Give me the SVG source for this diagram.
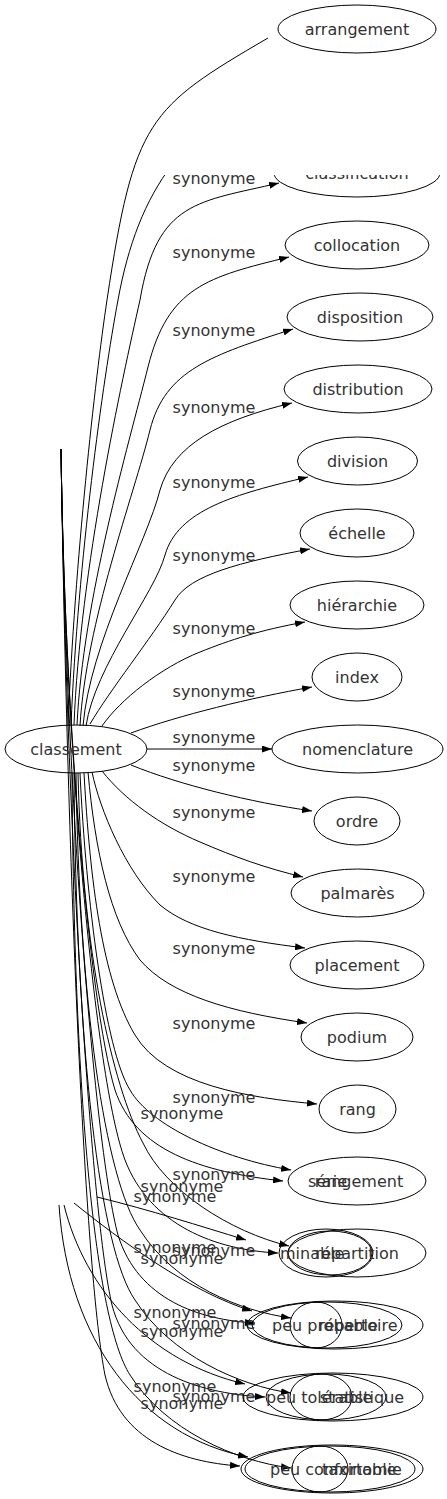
<svg xmlns="http://www.w3.org/2000/svg" width="447" height="1499" viewBox="0 0 447 1499">
<style>
.e{fill:none;stroke:#000;stroke-width:1}
.a{fill:none;stroke:#000;stroke-width:1;marker-end:url(#arr)}
.nd{fill:none;stroke:#000;stroke-width:1}
text{font-family:"DejaVu Sans",sans-serif;font-size:16px;fill:#333}
.m{text-anchor:middle}
.s{text-anchor:start}
</style>
<defs>
<marker id="arr" markerUnits="userSpaceOnUse" markerWidth="10" markerHeight="7" refX="10" refY="3.5" orient="auto"><path d="M0,0 L10,3.5 L0,7 z" fill="#000"/></marker>
</defs>
<rect x="0" y="0" width="447" height="1499" fill="#fff"/>
<g id="edges">
<path class="e" d="M71,725 C78,560 103,380 118,300 C128,245 145,200 172,165"/>
<path class="a" d="M74,725 C80,570 122,380 140,300 C157,200 199,202 279,183"/>
<path class="a" d="M77,725 C83,600 128,447 148,367 C168,287 207,277 289,257"/>
<path class="a" d="M80,726 C86,622 134,495 150,430 C165,370 212,355 293,329"/>
<path class="a" d="M83,726 C90,643 147,542 160,490 C173,445 220,420 292,403"/>
<path class="a" d="M86,726 C95,666 155,593 165,555 C178,510 235,494 308,477"/>
<path class="a" d="M90,724 C110,690 150,640 175,600 C190,575 240,562 310,549"/>
<path class="a" d="M102,726 C120,700 160,668 200,652 C230,640 260,630 305,622"/>
<path class="a" d="M131,733 C180,715 250,698 312,687"/>
<path class="a" d="M147,749 L272,749"/>
<path class="a" d="M131,765 C180,785 250,802 312,811"/>
<path class="a" d="M102,771 C125,800 160,825 200,842 C235,857 265,868 303,877"/>
<path class="a" d="M92,772 C100,810 125,870 160,905 C190,930 240,940 305,948"/>
<path class="a" d="M88,772 C95,850 110,920 140,960 C170,995 230,1012 307,1023"/>
<path class="a" d="M84,773 C90,880 102,980 135,1035 C165,1085 250,1098 317,1104"/>
<path class="a" d="M80,773 C86,900 105,1050 130,1090 C150,1125 220,1158 291,1170"/>
<path class="a" d="M78,773 C82,950 112,1085 143,1143 C165,1190 230,1232 289,1246"/>
<path class="a" d="M76,773 C79,1000 105,1180 140,1230 C175,1285 240,1311 291,1318"/>
<path class="a" d="M74,773 C76,1050 100,1250 135,1300 C170,1355 240,1386 291,1393"/>
<path class="a" d="M72,773 C74,1100 95,1320 130,1375 C165,1430 235,1461 291,1468"/>
<path class="a" d="M61,449 C64,700 88,1000 115,1090 C135,1150 200,1172 283,1181"/>
<path class="a" d="M61,449 C65,750 95,1080 125,1160 C150,1225 215,1250 278,1253"/>
<path class="a" d="M61,449 C66,800 95,1150 118,1235 C138,1300 200,1320 255,1323"/>
<path class="a" d="M61,449 C67,850 92,1220 112,1305 C130,1375 205,1394 265,1397"/>
<path class="a" d="M61,449 C68,900 86,1280 105,1375 C120,1440 180,1462 240,1466"/>
<path class="a" d="M97,1197 C150,1210 200,1226 246,1240"/>
<path class="a" d="M74,1203 C120,1240 190,1292 252,1311"/>
<path class="a" d="M64,1205 C85,1290 150,1362 245,1384"/>
<path class="a" d="M59,1205 C68,1340 140,1436 248,1457"/>
</g>
<g id="edge-labels">
<text class="m" x="214" y="184">synonyme</text>
<text class="m" x="214" y="257.5">synonyme</text>
<text class="m" x="214" y="336">synonyme</text>
<text class="m" x="214" y="413">synonyme</text>
<text class="m" x="214" y="488">synonyme</text>
<text class="m" x="214" y="561">synonyme</text>
<text class="m" x="214" y="634">synonyme</text>
<text class="m" x="214" y="697">synonyme</text>
<text class="m" x="214" y="743">synonyme</text>
<text class="m" x="214" y="771">synonyme</text>
<text class="m" x="214" y="818">synonyme</text>
<text class="m" x="214" y="882">synonyme</text>
<text class="m" x="214" y="954">synonyme</text>
<text class="m" x="214" y="1029">synonyme</text>
<text class="m" x="214" y="1103">synonyme</text>
<text class="m" x="214" y="1180">synonyme</text>
<text class="m" x="214" y="1256">synonyme</text>
<text class="m" x="214" y="1329">synonyme</text>
<text class="m" x="214" y="1402">synonyme</text>
<text class="m" x="182" y="1119">synonyme</text>
<text class="m" x="182" y="1192">synonyme</text>
<text class="m" x="182" y="1264">synonyme</text>
<text class="m" x="182" y="1337">synonyme</text>
<text class="m" x="182" y="1409">synonyme</text>
<text class="m" x="175" y="1202">synonyme</text>
<text class="m" x="175" y="1253">synonyme</text>
<text class="m" x="175" y="1318">synonyme</text>
<text class="m" x="175" y="1392">synonyme</text>
</g>
<g id="node-classement"><ellipse class="nd" cx="76" cy="749" rx="71" ry="24"/><text class="m" x="76" y="754.5">classement</text></g>
<g id="node-classification"><ellipse class="nd" cx="357" cy="173" rx="83" ry="24"/><text class="m" x="357" y="178.5">classification</text></g>
<g id="node-collocation"><ellipse class="nd" cx="357" cy="245" rx="72" ry="24"/><text class="m" x="357" y="250.5">collocation</text></g>
<g id="node-disposition"><ellipse class="nd" cx="360" cy="317" rx="73" ry="24"/><text class="m" x="360" y="322.5">disposition</text></g>
<g id="node-distribution"><ellipse class="nd" cx="358" cy="389" rx="74" ry="24"/><text class="m" x="358" y="394.5">distribution</text></g>
<g id="node-division"><ellipse class="nd" cx="357.5" cy="461" rx="60" ry="24"/><text class="m" x="357.5" y="466.5">division</text></g>
<g id="node-echelle"><ellipse class="nd" cx="357" cy="533" rx="57" ry="24"/><text class="m" x="357" y="538.5">échelle</text></g>
<g id="node-hierarchie"><ellipse class="nd" cx="357" cy="605" rx="67" ry="24"/><text class="m" x="357" y="610.5">hiérarchie</text></g>
<g id="node-index"><ellipse class="nd" cx="357" cy="677" rx="45" ry="24"/><text class="m" x="357" y="682.5">index</text></g>
<g id="node-nomenclature"><ellipse class="nd" cx="357.5" cy="749" rx="85.5" ry="24"/><text class="m" x="357.5" y="754.5">nomenclature</text></g>
<g id="node-ordre"><ellipse class="nd" cx="357" cy="821" rx="43" ry="24"/><text class="m" x="357" y="826.5">ordre</text></g>
<g id="node-palmares"><ellipse class="nd" cx="357.5" cy="893" rx="66.5" ry="24"/><text class="m" x="357.5" y="898.5">palmarès</text></g>
<g id="node-placement"><ellipse class="nd" cx="357" cy="965" rx="67" ry="24"/><text class="m" x="357" y="970.5">placement</text></g>
<g id="node-podium"><ellipse class="nd" cx="357" cy="1037" rx="56" ry="24"/><text class="m" x="357" y="1042.5">podium</text></g>
<g id="node-rang"><ellipse class="nd" cx="357.5" cy="1109" rx="38.5" ry="24"/><text class="m" x="357.5" y="1114.5">rang</text></g>
<g id="node-rangement"><ellipse class="nd" cx="357" cy="1181" rx="69" ry="24"/><text class="m" x="359" y="1186.5">rangement</text><text class="s" x="308" y="1186.5">série</text></g>
<g id="node-repartition"><ellipse class="nd" cx="357" cy="1253" rx="69" ry="24"/><ellipse class="nd" cx="326" cy="1253" rx="47" ry="24"/><ellipse class="nd" cx="330" cy="1253" rx="42" ry="22"/><text class="m" x="357" y="1258.5">répartition</text><text class="s" x="280" y="1258.5">minable</text></g>
<g id="node-repertoire"><ellipse class="nd" cx="335" cy="1325" rx="88" ry="24"/><ellipse class="nd" cx="327" cy="1325" rx="75" ry="23"/><ellipse class="nd" cx="316" cy="1325" rx="26" ry="23"/><text class="m" x="358" y="1330.5">répertoire</text><text class="s" x="272" y="1330.5">peu probable</text></g>
<g id="node-statistique"><ellipse class="nd" cx="333" cy="1397" rx="90" ry="24"/><ellipse class="nd" cx="326" cy="1397" rx="60" ry="23"/><ellipse class="nd" cx="321" cy="1397" rx="31" ry="23"/><text class="m" x="362" y="1402.5">statistique</text><text class="s" x="266" y="1402.5">peu tolérable</text></g>
<g id="node-taxinomie"><ellipse class="nd" cx="332" cy="1469" rx="91" ry="24"/><ellipse class="nd" cx="330" cy="1469" rx="85" ry="23"/><ellipse class="nd" cx="320" cy="1469" rx="28" ry="23"/><text class="m" x="362" y="1474.5">taxinomie</text><text class="s" x="270" y="1474.5">peu confortable</text></g>
<rect x="0" y="0" width="447" height="175" fill="#fff"/>
<g id="edge-arrangement"><path class="e" d="M68,725 C75,560 95,380 107,300 C134,120 148,108 268,38"/></g>
<g id="node-arrangement"><ellipse class="nd" cx="357" cy="29" rx="79" ry="24"/><text class="m" x="357" y="34.5">arrangement</text></g>
</svg>
